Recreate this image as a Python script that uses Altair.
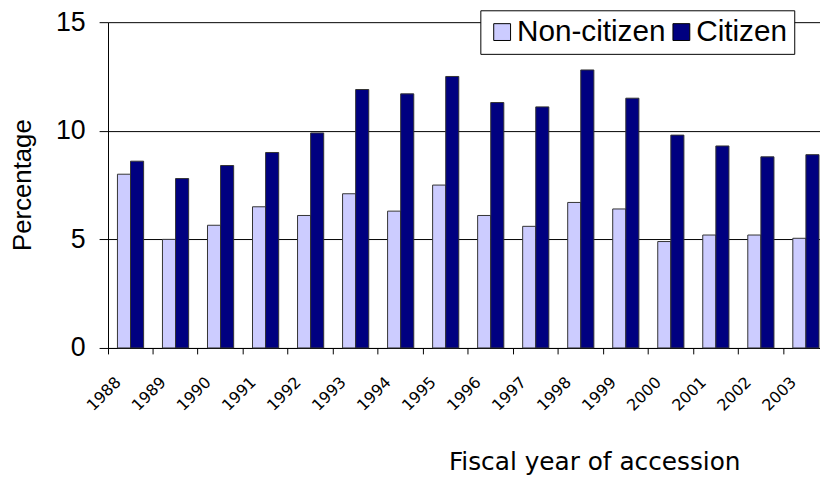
import altair as alt
import pandas as pd

years = ["1988", "1989", "1990", "1991", "1992", "1993", "1994", "1995",
         "1996", "1997", "1998", "1999", "2000", "2001", "2002", "2003"]
non_citizen = [8.0, 5.0, 5.65, 6.5, 6.1, 7.1, 6.3, 7.5,
               6.1, 5.6, 6.7, 6.4, 4.9, 5.2, 5.2, 5.05]
citizen = [8.6, 7.8, 8.4, 9.0, 9.9, 11.9, 11.7, 12.5,
           11.3, 11.1, 12.8, 11.5, 9.8, 9.3, 8.8, 8.9]
series_names = ["Non-citizen", "Citizen"]
series_colors = ["#CCCCFF", "#000080"]

rows = []
for i, y in enumerate(years):
    rows.append({"year": y, "series": series_names[0], "value": non_citizen[i]})
    rows.append({"year": y, "series": series_names[1], "value": citizen[i]})
df = pd.DataFrame(rows)

chart = alt.Chart(df).mark_bar(stroke="#333333", strokeWidth=1).encode(
    x=alt.X(
        "year:N",
        sort=years,
        scale=alt.Scale(range=[0, 727.5], paddingInner=0, paddingOuter=0),
        axis=alt.Axis(
            title="Fiscal year of accession",
            bandPosition=0,
            labelAngle=-45,
            labelAlign="right",
            labelBaseline="top",
            labelOffset=-18,
            labelPadding=20,
            labelFont="DejaVu Sans",
            labelFontSize=16,
            labelColor="black",
            tickSize=6,
            tickColor="black",
            domainColor="black",
            grid=False,
            titleFont="DejaVu Sans",
            titleFontSize=25,
            titleFontWeight="normal",
            titleColor="black",
            titleX=491,
            titleY=123,
            titleAlign="center",
            titleBaseline="alphabetic",
        ),
    ),
    xOffset=alt.XOffset(
        "series:N",
        sort=series_names,
        scale=alt.Scale(paddingInner=0, paddingOuter=0.72),
    ),
    y=alt.Y(
        "value:Q",
        scale=alt.Scale(domain=[0, 15], nice=False),
        axis=alt.Axis(
            title="Percentage",
            values=[0, 5, 10, 15],
            tickSize=9,
            tickColor="black",
            domainColor="black",
            labelPadding=14,
            labelFont="Liberation Sans",
            labelFontSize=27,
            labelColor="black",
            grid=True,
            gridColor="black",
            gridWidth=1,
            titleFont="Liberation Sans",
            titleFontSize=26,
            titleFontWeight="normal",
            titleColor="black",
            titleX=-86,
            titleY=164,
            titleAlign="center",
            titleBaseline="middle",
        ),
    ),
    color=alt.Color(
        "series:N",
        sort=series_names,
        scale=alt.Scale(domain=series_names, range=series_colors),
        legend=alt.Legend(
            title=None,
            orient="none",
            legendX=376,
            legendY=-12,
            direction="horizontal",
            fillColor="white",
            strokeColor="black",
            padding=7,
            symbolType="square",
            symbolSize=289,
            symbolStrokeColor="black",
            symbolStrokeWidth=1,
            symbolOpacity=1,
            labelFont="Liberation Sans",
            labelFontSize=30,
            labelColor="black",
            labelOffset=0,
            columnPadding=-6,
        ),
    ),
).properties(
    width=719,
    height=329,
    autosize=alt.AutoSizeParams(type="none"),
    padding={"left": 101, "top": 12, "right": 0, "bottom": 129},
).configure_view(stroke=None)

chart.save("out.html", embed_options={"renderer": "svg", "actions": False})
